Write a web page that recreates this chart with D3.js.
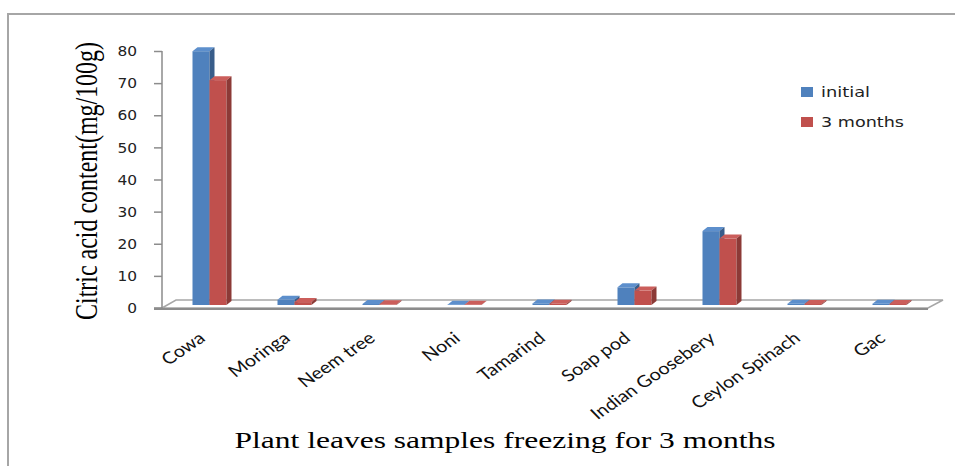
<!DOCTYPE html>
<html>
<head>
<meta charset="UTF-8" />
<script src="https://cdn.jsdelivr.net/npm/d3@7"></script>
<title>Citric acid content</title>
<style>
    body { margin: 0; background: white; }
    svg { display: block; }
</style>
</head>
<body>
<div id="chart"></div>
<script>
const categories = ["Cowa", "Moringa", "Neem tree", "Noni", "Tamarind", "Soap pod", "Indian Goosebery", "Ceylon Spinach", "Gac"];
const initial = [79, 1.6, 0.3, 0.1, 0.5, 5.5, 23, 0.4, 0.4];
const months3 = [70, 0.9, 0.2, 0.1, 0.4, 4.5, 20.7, 0.3, 0.3];
const yTicks = [0, 10, 20, 30, 40, 50, 60, 70, 80];
const seriesNames = ["initial", "3 months"];

const w = 955, h = 466;
const dx = 5, dy = -4;          // 3d depth offset
const barW = 17;
const colors = {
    "initial": {front: "#4f81bd", top: "#5d8fcc", side: "#385d8a"},
    "3 months": {front: "#c0504d", top: "#cb5e5b", side: "#8c3a37"}
};

const svg = d3.select("#chart").append("svg")
    .attr("width", w).attr("height", h);

// outer frame
svg.append("path")
    .attr("d", "M8,466 L8,14 L955,14")
    .attr("fill", "none").attr("stroke", "#a6a6a6").attr("stroke-width", 2);

const x = d3.scaleBand().domain(categories).range([167, 932]);
const y = d3.scaleLinear().domain([0, 80]).range([308, 51]);

// floor
const fl = x.range()[0] - 5, fr = x.range()[1] - 4;
svg.append("path")
    .attr("d", `M${fl},${y(0)} L${fl + 14},${y(0) - 8} L${fr + 15},${y(0) - 8} L${fr},${y(0)} Z`)
    .attr("fill", "white").attr("stroke", "#a6a6a6").attr("stroke-width", 1.5);

// y axis
const yAxis = d3.axisLeft(y).tickValues(yTicks).tickSize(8).tickPadding(17);
const ya = svg.append("g").attr("transform", `translate(${fl},0)`).call(yAxis);
ya.select(".domain").attr("stroke", "#8c8c8c").attr("stroke-width", 1.5).attr("d", `M-8,${y(0)}H0V${y(80)}`);
ya.selectAll(".tick line").attr("stroke", "#8c8c8c").attr("stroke-width", 1.5);
ya.selectAll(".tick text")
    .attr("font-family", "DejaVu Sans").attr("font-size", 14.5).attr("fill", "#222")
    .attr("textLength", d => String(d).length * 9.8).attr("lengthAdjust", "spacingAndGlyphs");

// front floor edge
svg.append("line")
    .attr("x1", fl - 8).attr("x2", fr).attr("y1", y(0) + 1).attr("y2", y(0) + 1)
    .attr("stroke", "#8c8c8c").attr("stroke-width", 2);

// bars
const bars = [];
seriesNames.forEach((s, si) => {
    const vals = si === 0 ? initial : months3;
    categories.forEach((c, i) => bars.push({cat: c, s: s, si: si, v: vals[i]}));
});
const base = y(0) - 3;
const g = svg.append("g");
const bar = g.selectAll("g.bar").data(bars).enter().append("g").attr("class", "bar");
const bx = d => x(d.cat) + x.bandwidth() / 2 - barW + d.si * barW;
const bt = d => base - (y(0) - y(d.v));
bar.append("rect")
    .attr("x", bx).attr("y", bt)
    .attr("width", barW).attr("height", d => base - bt(d))
    .attr("fill", d => colors[d.s].front);
bar.append("path")
    .attr("d", d => `M${bx(d)},${bt(d)} l${dx},${dy} h${barW} l${-dx},${-dy} Z`)
    .attr("fill", d => colors[d.s].top);
bar.append("path")
    .attr("d", d => `M${bx(d) + barW},${bt(d)} l${dx},${dy} V${base + dy} l${-dx},${-dy} Z`)
    .attr("fill", d => colors[d.s].side);

// category labels
svg.append("g").selectAll("text").data(categories).enter().append("text")
    .attr("transform", d => `translate(${x(d) + x.bandwidth() / 2 - 3},340) scale(1.2,1) rotate(-39)`)
    .attr("text-anchor", "end")
    .attr("font-family", "Lato").attr("font-size", 16.5).attr("fill", "#111")
    .text(d => d);

// axis titles
svg.append("text")
    .attr("transform", "translate(97,181) scale(1.2,1) rotate(-90)")
    .attr("text-anchor", "middle")
    .attr("font-family", "Liberation Serif").attr("font-size", 26)
    .attr("textLength", 278).attr("lengthAdjust", "spacingAndGlyphs")
    .text("Citric acid content(mg/100g)");
svg.append("text")
    .attr("x", 505).attr("y", 448).attr("text-anchor", "middle")
    .attr("font-family", "Liberation Serif").attr("font-size", 24)
    .attr("textLength", 541).attr("lengthAdjust", "spacingAndGlyphs")
    .text("Plant leaves samples freezing for 3 months");

// legend
const lg = svg.append("g").selectAll("g").data(seriesNames).enter().append("g")
    .attr("transform", (d, i) => `translate(801,${87 + i * 30})`);
lg.append("rect").attr("width", 12).attr("height", 10).attr("fill", d => colors[d].front);
lg.append("text").attr("x", 20).attr("y", 10)
    .attr("font-family", "DejaVu Sans").attr("font-size", 14).attr("fill", "#222")
    .attr("textLength", d => d === "initial" ? 49 : 83).attr("lengthAdjust", "spacingAndGlyphs")
    .text(d => d);
</script>
</body>
</html>
